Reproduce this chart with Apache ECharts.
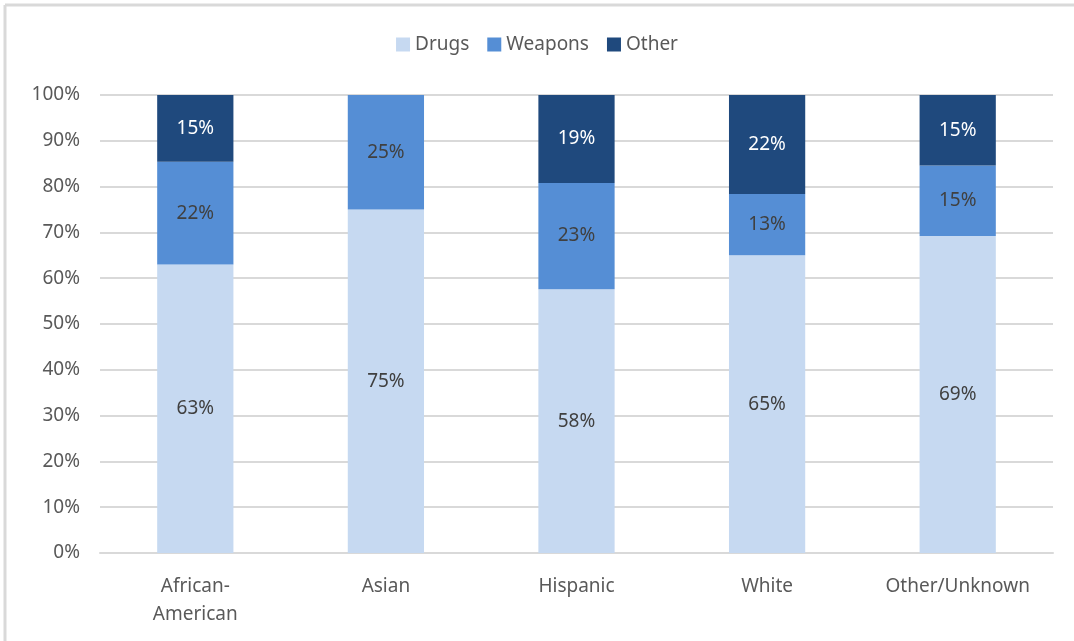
<!DOCTYPE html>
<html><head><meta charset="utf-8">
<script src="https://cdn.jsdelivr.net/npm/echarts@6/dist/echarts.min.js"></script>
<style>html,body{margin:0;padding:0;background:#fff}#c{width:1074px;height:641px}</style>
</head><body><div id="c"></div>
<script>
const categories = ['African-\nAmerican', 'Asian', 'Hispanic', 'White', 'Other/Unknown'];
const drugs = [63.0, 75, 57.6, 65.0, 69.2];
const weapons = [22.4, 25, 23.2, 13.4, 15.4];
const other = [14.6, 0, 19.2, 21.6, 15.4];
const yTicks = [0, 10, 20, 30, 40, 50, 60, 70, 80, 90, 100];

const font = 'Noto Sans';
function lbl(color) {
  return { show: true, position: 'inside', color: color, fontSize: 19, fontFamily: font,
    formatter: p => p.value > 0 ? Math.round(p.value) + '%' : '' };
}
const chart = echarts.init(document.getElementById('c'), null, {renderer: 'canvas'});
chart.setOption({
  animation: false,
  backgroundColor: '#fff',
  graphic: [
    { type: 'line', shape: {x1: 5, y1: 5, x2: 1074, y2: 5}, style: {stroke: '#D9D9D9', lineWidth: 3} },
    { type: 'line', shape: {x1: 5, y1: 5, x2: 5, y2: 641}, style: {stroke: '#D9D9D9', lineWidth: 3} }
  ],
  legend: {
    top: 30, left: 'center', itemWidth: 14, itemHeight: 14, itemGap: 18,
    icon: 'rect',
    textStyle: { fontSize: 19, color: '#595959', fontFamily: font },
    data: ['Drugs', 'Weapons', 'Other']
  },
  grid: { left: 100, right: 21, top: 95, bottom: 88, containLabel: false },
  xAxis: {
    type: 'category', data: categories,
    axisLine: { show: true, lineStyle: { color: '#D9D9D9', width: 2 } },
    axisTick: { show: false },
    axisLabel: { fontSize: 19, color: '#595959', fontFamily: font, margin: 20, lineHeight: 28 }
  },
  yAxis: {
    type: 'value', min: yTicks[0], max: yTicks[yTicks.length - 1], interval: 10,
    axisLine: { show: false }, axisTick: { show: false },
    splitLine: { lineStyle: { color: '#D9D9D9', width: 2 } },
    axisLabel: { fontSize: 19, color: '#595959', fontFamily: font, margin: 20, formatter: v => v + '%' }
  },
  series: [
    { name: 'Drugs', type: 'bar', stack: 's', data: drugs, barWidth: '40%',
      itemStyle: { color: '#C6D9F1' }, label: lbl('#404040') },
    { name: 'Weapons', type: 'bar', stack: 's', data: weapons,
      itemStyle: { color: '#558ED5' }, label: lbl('#404040') },
    { name: 'Other', type: 'bar', stack: 's', data: other,
      itemStyle: { color: '#1F497D' }, label: lbl('#FFFFFF') }
  ]
});
</script></body></html>
